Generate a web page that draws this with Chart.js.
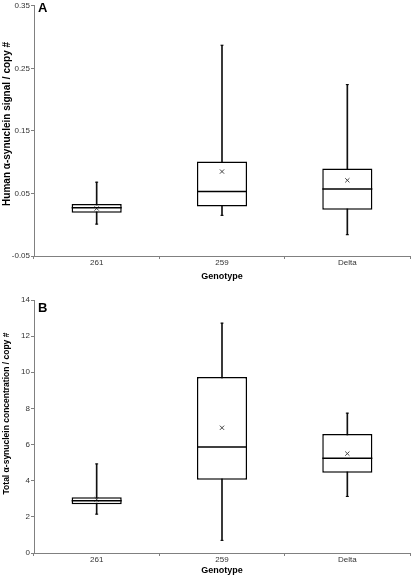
<!DOCTYPE html>
<html>
<head>
<meta charset="utf-8">
<script src="https://cdn.jsdelivr.net/npm/chart.js@4.4.1/dist/chart.umd.min.js"></script>
<style>
html, body { margin: 0; padding: 0; background: #fff; }
#wrap { position: relative; width: 411px; height: 576px; }
.panel { position: absolute; left: 0; width: 411px; }
.letter { position: absolute; left: 38px; font: bold 13px "Liberation Sans", Arial, sans-serif; color: #000; line-height: 15px; }
</style>
</head>
<body>
<div id="wrap">
  <div class="panel" style="top:0;height:290px"><canvas id="chartA"></canvas></div>
  <div class="panel" style="top:290px;height:286px"><canvas id="chartB"></canvas></div>
  <div class="letter" style="top:0px">A</div>
  <div class="letter" style="top:300px">B</div>
</div>
<script>
const genotypes = ['261', '259', 'Delta'];

// panel A - human a-synuclein signal / copy #
const signalMin = [0.001, 0.015, -0.016];
const signalQ1 = [0.019, 0.029, 0.024];
const signalMedian = [0.027, 0.053, 0.057];
const signalQ3 = [0.033, 0.101, 0.090];
const signalMax = [0.068, 0.287, 0.224];
const signalMean = [0.026, 0.085, 0.071];
const signalTicks = [-0.05, 0.05, 0.15, 0.25, 0.35];

// panel B - total a-synuclein concentration / copy #
const totalMin = [2.15, 0.70, 3.13];
const totalQ1 = [2.70, 4.06, 4.44];
const totalMedian = [2.89, 5.87, 5.24];
const totalQ3 = [3.09, 9.74, 6.58];
const totalMax = [4.93, 12.72, 7.74];
const totalMean = [2.97, 6.93, 5.50];
const totalTicks = [0, 2, 4, 6, 8, 10, 12, 14];

const FONT = '"Liberation Sans", Arial, sans-serif';

// y axis title, drawn a bit above the axis centre like the original
const yTitlePlugin = {
  id: 'yTitle',
  afterDraw(chart, args, opts) {
    const { ctx, chartArea } = chart;
    ctx.save();
    ctx.translate(opts.x, (chartArea.top + chartArea.bottom) / 2 - opts.shift);
    ctx.rotate(-Math.PI / 2);
    ctx.font = 'bold ' + opts.size + 'px ' + FONT;
    ctx.fillStyle = '#000';
    ctx.textAlign = 'center';
    ctx.textBaseline = 'middle';
    ctx.fillText(opts.text, 0, 0);
    ctx.restore();
  }
};

function boxChart(id, s) {
  const canvas = document.getElementById(id);
  const pts = (data, style, radius, width, color) => ({
    type: 'line', data: data, showLine: false, order: 0,
    pointStyle: style, pointRadius: radius, pointHoverRadius: radius,
    borderColor: color, backgroundColor: color, borderWidth: width, pointBorderWidth: width
  });

  return new Chart(canvas, {
    type: 'bar',
    data: {
      labels: genotypes,
      datasets: [
        // whiskers, drawn first so the box covers them
        { data: s.min.map((m, i) => [m, s.max[i]]), grouped: false, barThickness: 1,
          backgroundColor: '#111', borderWidth: 0, order: 3 },
        // the box itself, Q1..Q3
        { data: s.q1.map((q, i) => [q, s.q3[i]]), grouped: false,
          barPercentage: 0.4, categoryPercentage: 1,
          backgroundColor: '#fff', borderColor: '#000', borderWidth: 1.5,
          borderSkipped: false, order: 2 },
        pts(s.median, 'line', 25, 1.5, '#000'),
        pts(s.max, 'line', 1.5, 1, '#000'),
        pts(s.min, 'line', 1.5, 1, '#000'),
        pts(s.mean, 'crossRot', 3, 1, '#444')
      ]
    },
    plugins: [yTitlePlugin],
    options: {
      responsive: true,
      maintainAspectRatio: false,
      animation: false,
      layout: { autoPadding: false, padding: { top: s.padTop, right: 1, left: 0, bottom: 0 } },
      plugins: {
        legend: { display: false },
        tooltip: { enabled: false },
        yTitle: { text: s.yTitle, size: s.yTitleSize, x: 7, shift: s.yTitleShift }
      },
      scales: {
        x: {
          grid: { drawOnChartArea: false, tickLength: 3, color: '#808080' },
          border: { color: '#808080' },
          ticks: { font: { family: FONT, size: 8 }, color: '#333', padding: -1 },
          title: { display: true, text: 'Genotype', color: '#000',
                   font: { family: FONT, size: 9, weight: 'bold' },
                   padding: { top: 4, bottom: s.titlePad } },
          afterFit: (scale) => { scale.height = s.xHeight; }
        },
        y: {
          min: s.ticks[0],
          max: s.ticks[s.ticks.length - 1],
          afterBuildTicks: (scale) => { scale.ticks = s.ticks.map(v => ({ value: v })); },
          grid: { drawOnChartArea: false, tickLength: 3, color: '#808080' },
          border: { color: '#808080' },
          ticks: { font: { family: FONT, size: 8 }, color: '#333', padding: 1,
                   callback: (v) => s.fmt(v) },
          afterFit: (scale) => { scale.width = 34; }
        }
      }
    }
  });
}

boxChart('chartA', {
  min: signalMin, q1: signalQ1, median: signalMedian, q3: signalQ3, max: signalMax, mean: signalMean,
  ticks: signalTicks, fmt: v => v.toFixed(2),
  yTitle: 'Human α-synuclein signal / copy #', yTitleSize: 10, yTitleShift: 7,
  padTop: 0, xHeight: 34, titlePad: 8
});

boxChart('chartB', {
  min: totalMin, q1: totalQ1, median: totalMedian, q3: totalQ3, max: totalMax, mean: totalMean,
  ticks: totalTicks, fmt: v => String(v),
  yTitle: 'Total α-synuclein concentration / copy #', yTitleSize: 8.5, yTitleShift: 13,
  padTop: 10, xHeight: 23, titlePad: 0
});
</script>
</body>
</html>
